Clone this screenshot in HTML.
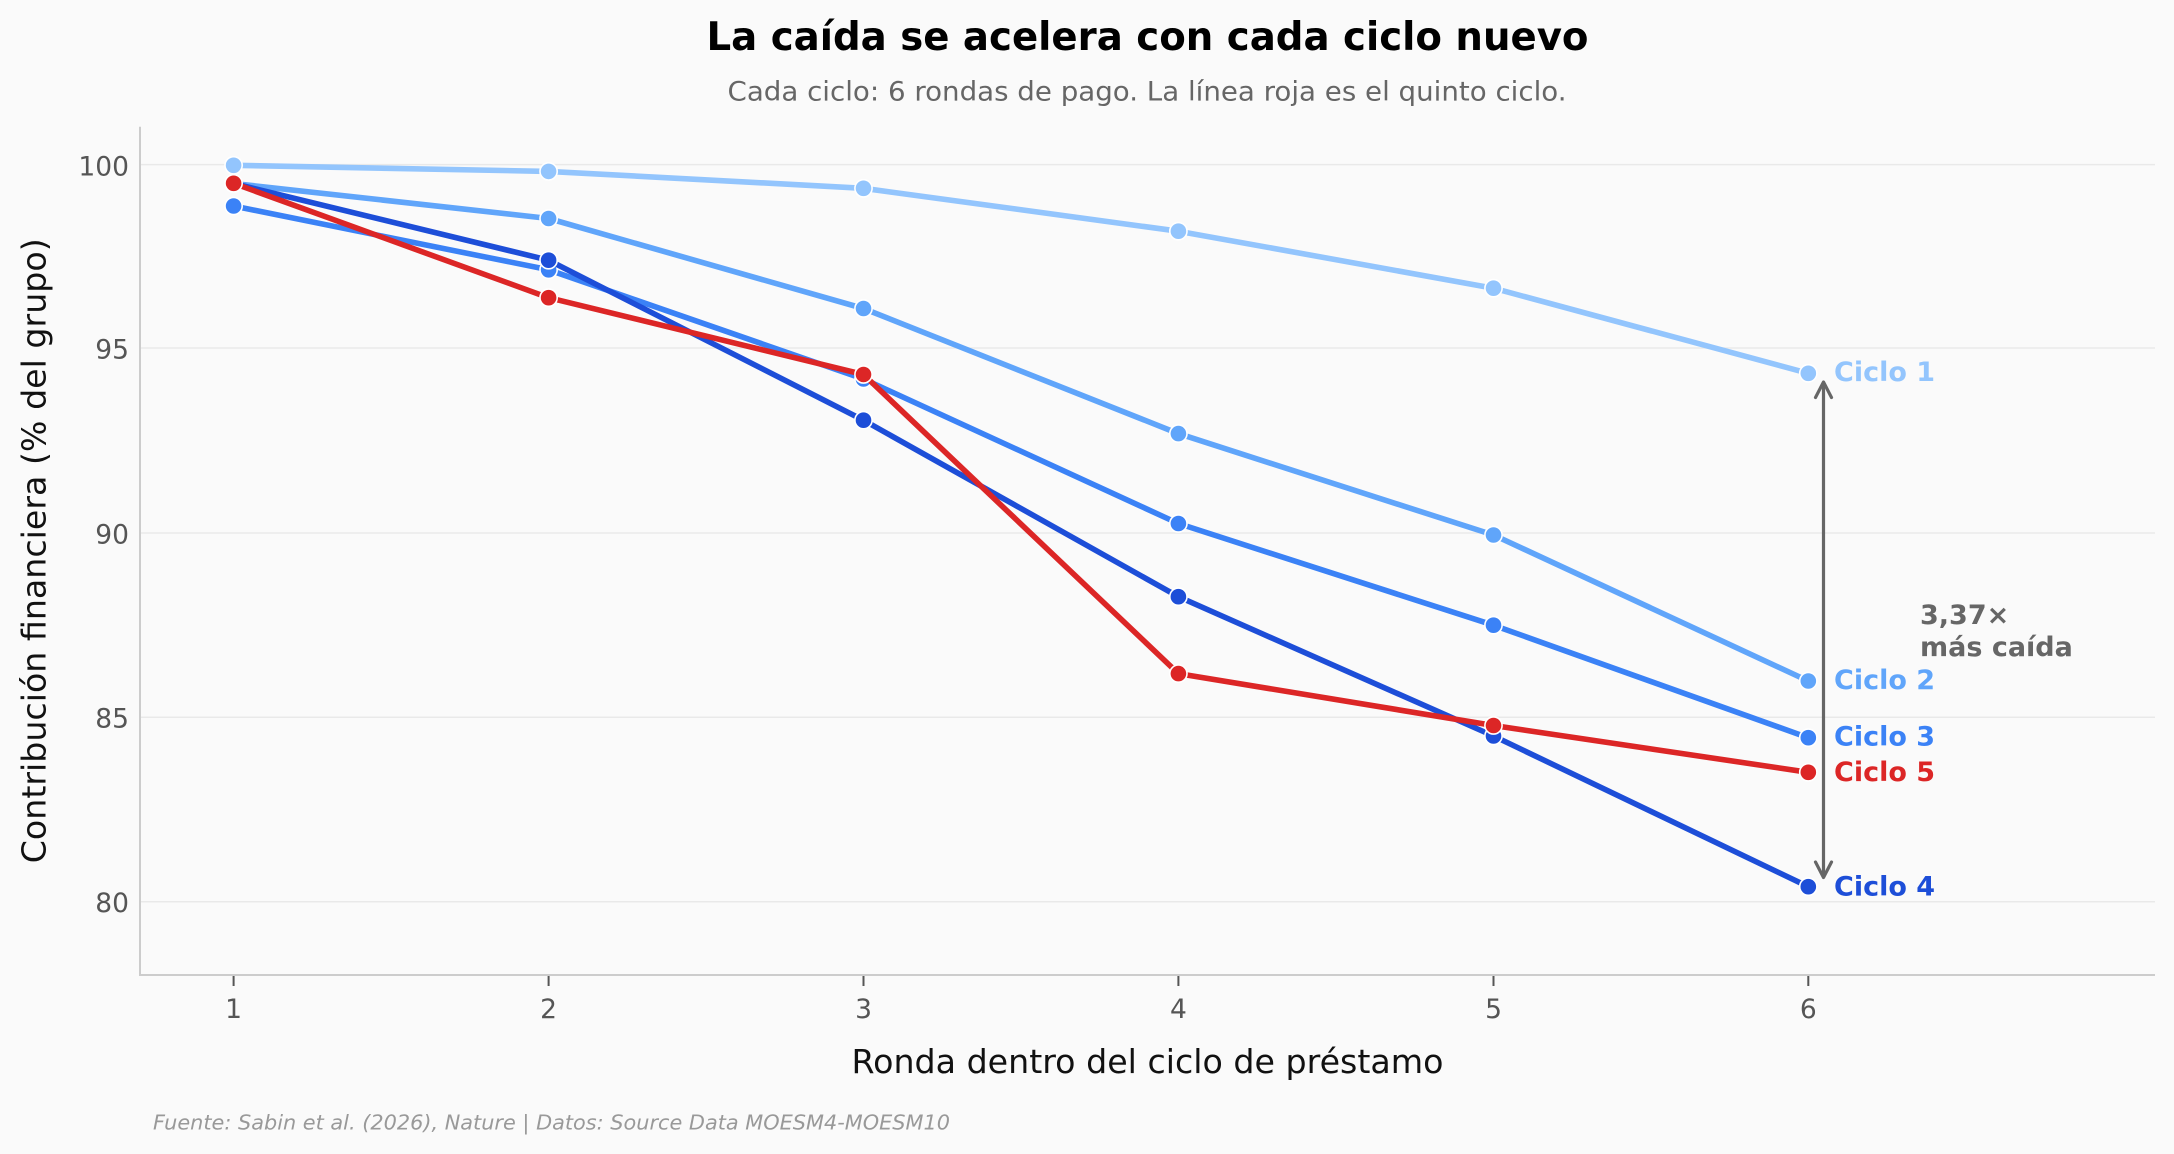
<!DOCTYPE html>
<html>
<head>
<meta charset="utf-8">
<style>
  html, body { margin:0; padding:0; background:#fafafa; }
  svg { display:block; }
  text { font-family: "DejaVu Sans", "Liberation Sans", sans-serif; }
</style>
</head>
<body>
<svg width="2174" height="1154" viewBox="0 0 2174 1154" xmlns="http://www.w3.org/2000/svg">
  <rect x="0" y="0" width="2174" height="1154" fill="#fafafa"/>

  <!-- Title / subtitle -->
  <text x="1147.5" y="50" text-anchor="middle" font-size="39" font-weight="bold" fill="#000" textLength="882" lengthAdjust="spacingAndGlyphs">La caída se acelera con cada ciclo nuevo</text>
  <text x="1147" y="100.5" text-anchor="middle" font-size="27" fill="#666" textLength="839" lengthAdjust="spacingAndGlyphs">Cada ciclo: 6 rondas de pago. La línea roja es el quinto ciclo.</text>

  <!-- Grid lines -->
  <g stroke="#e9e9e9" stroke-width="1.5">
    <line x1="141" y1="164.6" x2="2155" y2="164.6"/>
    <line x1="141" y1="348" x2="2155" y2="348"/>
    <line x1="141" y1="533" x2="2155" y2="533"/>
    <line x1="141" y1="717.2" x2="2155" y2="717.2"/>
    <line x1="141" y1="901.7" x2="2155" y2="901.7"/>
  </g>

  <!-- Spines -->
  <line x1="140" y1="126.7" x2="140" y2="976" stroke="#cccccc" stroke-width="2"/>
  <line x1="139" y1="975" x2="2155" y2="975" stroke="#cccccc" stroke-width="2"/>

  <!-- X ticks -->
  <g stroke="#555" stroke-width="2">
    <line x1="233.6" y1="976" x2="233.6" y2="986"/>
    <line x1="548.6" y1="976" x2="548.6" y2="986"/>
    <line x1="863.5" y1="976" x2="863.5" y2="986"/>
    <line x1="1178.4" y1="976" x2="1178.4" y2="986"/>
    <line x1="1493.5" y1="976" x2="1493.5" y2="986"/>
    <line x1="1808.3" y1="976" x2="1808.3" y2="986"/>
  </g>
  <g font-size="26.5" fill="#555" text-anchor="middle">
    <text x="233.6" y="1018">1</text>
    <text x="548.6" y="1018">2</text>
    <text x="863.5" y="1018">3</text>
    <text x="1178.4" y="1018">4</text>
    <text x="1493.5" y="1018">5</text>
    <text x="1808.3" y="1018">6</text>
  </g>

  <!-- Y tick labels -->
  <g font-size="26.5" fill="#555" text-anchor="end">
    <text x="129" y="175.5">100</text>
    <text x="129" y="358.5">95</text>
    <text x="129" y="543.5">90</text>
    <text x="129" y="727.5">85</text>
    <text x="129" y="912">80</text>
  </g>

  <!-- Axis labels -->
  <text x="1147.5" y="1073" text-anchor="middle" font-size="33" fill="#111" textLength="592" lengthAdjust="spacingAndGlyphs">Ronda dentro del ciclo de préstamo</text>
  <text transform="translate(45.5,550.8) rotate(-90)" x="0" y="0" text-anchor="middle" font-size="33" fill="#111" textLength="625" lengthAdjust="spacingAndGlyphs">Contribución financiera (% del grupo)</text>

  <!-- Series -->
  <g stroke-width="5.6" fill="none" stroke-linejoin="round" stroke-linecap="round">
    <polyline stroke="#93c5fd" points="233.6,165.3 548.6,171.4 863.5,188.3 1178.4,231.2 1493.5,288.2 1808.3,373.3"/>
  </g>
  <g fill="#93c5fd" stroke="#fff" stroke-width="1.6">
    <circle cx="233.6" cy="165.3" r="8.6"/><circle cx="548.6" cy="171.4" r="8.6"/><circle cx="863.5" cy="188.3" r="8.6"/>
    <circle cx="1178.4" cy="231.2" r="8.6"/><circle cx="1493.5" cy="288.2" r="8.6"/><circle cx="1808.3" cy="373.3" r="8.6"/>
  </g>

  <g stroke-width="5.6" fill="none" stroke-linejoin="round" stroke-linecap="round">
    <polyline stroke="#60a5fa" points="233.6,183.5 548.6,218.5 863.5,308.5 1178.4,433.6 1493.5,535 1808.3,681"/>
  </g>
  <g fill="#60a5fa" stroke="#fff" stroke-width="1.6">
    <circle cx="233.6" cy="183.5" r="8.6"/><circle cx="548.6" cy="218.5" r="8.6"/><circle cx="863.5" cy="308.5" r="8.6"/>
    <circle cx="1178.4" cy="433.6" r="8.6"/><circle cx="1493.5" cy="535" r="8.6"/><circle cx="1808.3" cy="681" r="8.6"/>
  </g>

  <g stroke-width="5.6" fill="none" stroke-linejoin="round" stroke-linecap="round">
    <polyline stroke="#3b82f6" points="233.6,206 548.6,269.8 863.5,379 1178.4,523.5 1493.5,625.2 1808.3,737.7"/>
  </g>
  <g fill="#3b82f6" stroke="#fff" stroke-width="1.6">
    <circle cx="233.6" cy="206" r="8.6"/><circle cx="548.6" cy="269.8" r="8.6"/><circle cx="863.5" cy="379" r="8.6"/>
    <circle cx="1178.4" cy="523.5" r="8.6"/><circle cx="1493.5" cy="625.2" r="8.6"/><circle cx="1808.3" cy="737.7" r="8.6"/>
  </g>

  <g stroke-width="5.6" fill="none" stroke-linejoin="round" stroke-linecap="round">
    <polyline stroke="#1d4ed8" points="233.6,183.5 548.6,260.2 863.5,420.2 1178.4,596.7 1493.5,736 1808.3,886.7"/>
  </g>
  <g fill="#1d4ed8" stroke="#fff" stroke-width="1.6">
    <circle cx="233.6" cy="183.5" r="8.6"/><circle cx="548.6" cy="260.2" r="8.6"/><circle cx="863.5" cy="420.2" r="8.6"/>
    <circle cx="1178.4" cy="596.7" r="8.6"/><circle cx="1493.5" cy="736" r="8.6"/><circle cx="1808.3" cy="886.7" r="8.6"/>
  </g>

  <g stroke-width="5.6" fill="none" stroke-linejoin="round" stroke-linecap="round">
    <polyline stroke="#dc2626" points="233.6,183.3 548.6,297.7 863.5,374.5 1178.4,673.6 1493.5,725.5 1808.3,772.3"/>
  </g>
  <g fill="#dc2626" stroke="#fff" stroke-width="1.6">
    <circle cx="233.6" cy="183.3" r="8.6"/><circle cx="548.6" cy="297.7" r="8.6"/><circle cx="863.5" cy="374.5" r="8.6"/>
    <circle cx="1178.4" cy="673.6" r="8.6"/><circle cx="1493.5" cy="725.5" r="8.6"/><circle cx="1808.3" cy="772.3" r="8.6"/>
  </g>

  <!-- Arrow -->
  <g stroke="#666" stroke-width="3.2" fill="none" stroke-linecap="round" stroke-linejoin="round">
    <line x1="1823.5" y1="383" x2="1823.5" y2="876"/>
    <polyline points="1815.5,397.5 1823.5,382 1831.5,397.5"/>
    <polyline points="1815.5,862 1823.5,877.5 1831.5,862"/>
  </g>

  <!-- Annotation -->
  <g font-size="27" font-weight="bold" fill="#666">
    <text x="1920" y="624">3,37×</text>
    <text x="1920" y="656">más caída</text>
  </g>

  <!-- Series labels -->
  <g font-size="27" font-weight="bold">
    <text x="1834" y="381" fill="#93c5fd">Ciclo 1</text>
    <text x="1834" y="689" fill="#60a5fa">Ciclo 2</text>
    <text x="1834" y="745.7" fill="#3b82f6">Ciclo 3</text>
    <text x="1834" y="781" fill="#dc2626">Ciclo 5</text>
    <text x="1834" y="895.7" fill="#1d4ed8">Ciclo 4</text>
  </g>

  <!-- Footer -->
  <text x="153" y="1129.3" font-size="20.8" font-style="italic" fill="#999" textLength="797" lengthAdjust="spacingAndGlyphs">Fuente: Sabin et al. (2026), Nature | Datos: Source Data MOESM4-MOESM10</text>
</svg>
</body>
</html>
